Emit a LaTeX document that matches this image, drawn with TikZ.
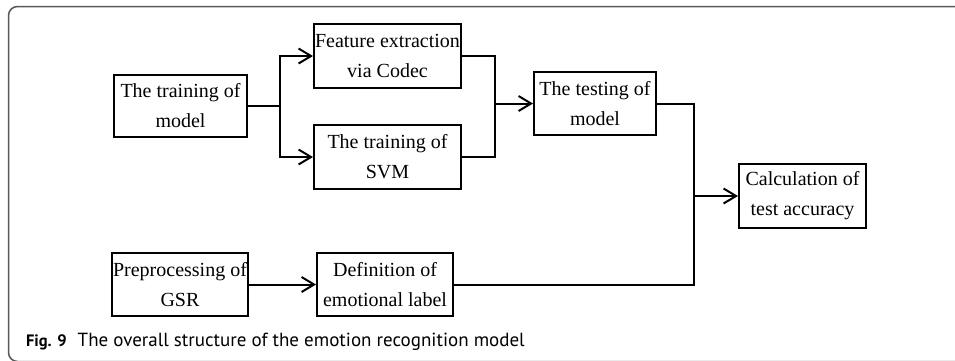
\documentclass[tikz,border=0pt]{standalone}
\usepackage{fontspec}
\setmainfont{Liberation Serif}
\newfontfamily\capfont{PT Sans}
\usetikzlibrary{arrows.meta}

\begin{document}
\begin{tikzpicture}[x=1pt, y=-1pt, line width=2pt,
	stage/.style={draw, inner sep=0pt, align=center,
		font=\fontsize{20}{30}\selectfont},
	->/.style={-{Straight Barb[length=12.5pt, width=15pt, line width=2pt]}}]

\useasboundingbox (0,0) rectangle (955,360);

% frame round the figure
\draw[black!65, line width=1.5pt, rounded corners=9pt]
	(960,6.5) -- (8.5,6.5) -- (8.5,361.5) -- (960,361.5);

% upper branch: training, then testing
\node[stage, minimum width=133pt, minimum height=62pt] (train) at (180.5,106) {The training of\\model};
\node[stage, minimum width=147pt, minimum height=64pt] (feat) at (387.5,56) {Feature extraction\\via Codec};
\node[stage, minimum width=147pt, minimum height=64pt] (svm) at (387.5,157) {The training of\\SVM};
\node[stage, minimum width=122pt, minimum height=63pt] (test) at (595,103.5) {The testing of\\model};
\node[stage, minimum width=127pt, minimum height=64pt] (calc) at (802.5,196) {Calculation of\\test accuracy};

% lower branch: labels from GSR
\node[stage, minimum width=136pt, minimum height=63pt] (prep) at (180,284.5) {Preprocessing of\\GSR};
\node[stage, minimum width=136pt, minimum height=63pt] (label) at (385,284.5) {Definition of\\emotional label};

\coordinate (split) at (280,106);
\coordinate (join) at (495,103.5);
\coordinate (hub) at (694,196);

\draw (train.east) -- (split);
\draw[->] (split) |- (feat.west);
\draw[->] (split) |- (svm.west);
\draw (feat.east) -| (join);
\draw (svm.east) -| (join);
\draw[->] (join) -- (test.west);
\draw (test.east) -| (hub);
\draw (label.east) -| (hub);
\draw[->] (hub) -- (calc.west);
\draw[->] (prep.east) -- (label.west);

% caption
\node[anchor=base west, inner sep=0pt, font=\capfont\fontsize{19}{22}\selectfont] (caption) at (25,346)
	{{\fontsize{16.5}{20}\selectfont\textbf{Fig. 9}}\hspace{6pt} The overall structure of the emotion recognition model};
\end{tikzpicture}
\end{document}
